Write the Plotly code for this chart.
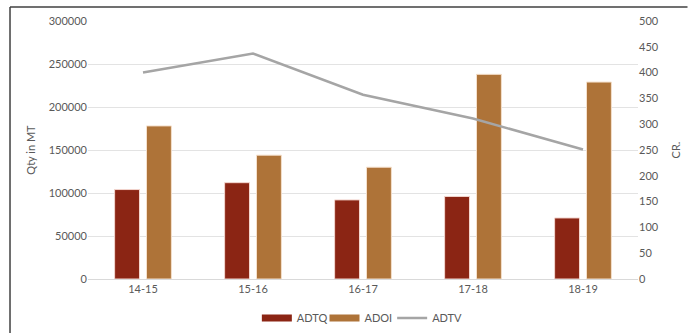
import plotly.graph_objects as go

categories = ["14-15", "15-16", "16-17", "17-18", "18-19"]
adtq = [104000, 112000, 92000, 96000, 71000]
adoi = [178000, 144000, 130000, 238000, 229000]
adtv = [400, 437, 357, 311, 251]

left_ticks = [0, 50000, 100000, 150000, 200000, 250000, 300000]
right_ticks = [0, 50, 100, 150, 200, 250, 300, 350, 400, 450, 500]

FONT = "Lato, 'Open Sans', sans-serif"
GRAY = "#595959"
C_ADTQ = "#8B2514"
C_ADOI = "#AE7338"
C_ADTV = "#A5A5A5"

fig = go.Figure()
fig.add_trace(go.Bar(x=categories, y=adtq, name="ADTQ", showlegend=False,
                     marker=dict(color=C_ADTQ, line=dict(color="#f3d6cf", width=1))))
fig.add_trace(go.Bar(x=categories, y=adoi, name="ADOI", showlegend=False,
                     marker=dict(color=C_ADOI, line=dict(color="#f5e0cc", width=1))))
fig.add_trace(go.Scatter(x=categories, y=adtv, name="ADTV", yaxis="y2", mode="lines",
                         showlegend=False, line=dict(color=C_ADTV, width=2.5)))
# legend entries (Excel-style wide swatches), each in its own legend for exact spacing
fig.add_trace(go.Scatter(x=[None], y=[None], name="ADTQ", mode="lines", legend="legend",
                         line=dict(color=C_ADTQ, width=7)))
fig.add_trace(go.Scatter(x=[None], y=[None], name="ADOI", mode="lines", legend="legend2",
                         line=dict(color=C_ADOI, width=7)))
fig.add_trace(go.Scatter(x=[None], y=[None], name="ADTV", mode="lines", legend="legend3",
                         line=dict(color=C_ADTV, width=2.5)))

leg_common = dict(orientation="h", xanchor="left", y=-0.151, yanchor="middle",
                  font=dict(size=11, color=GRAY), bgcolor="rgba(0,0,0,0)")

fig.update_layout(
    width=689, height=333,
    margin=dict(l=88, r=51, t=21, b=54, autoexpand=False),
    paper_bgcolor="white", plot_bgcolor="white",
    font=dict(family=FONT, size=11, color=GRAY),
    barmode="group", bargap=0.42, bargroupgap=0.22,
    xaxis=dict(showgrid=False, showline=True, linecolor="#d9d9d9", linewidth=1,
               ticks="", tickfont=dict(size=11, color=GRAY)),
    yaxis=dict(range=[0, 300000], tickvals=left_ticks, ticktext=[str(v) for v in left_ticks],
               showgrid=True, gridcolor="#e3e3e3", gridwidth=1, zeroline=False,
               title=dict(text="Qty in MT", font=dict(size=11, color=GRAY), standoff=10),
               ticks="", tickfont=dict(size=11, color=GRAY)),
    yaxis2=dict(range=[0, 500], tickvals=right_ticks, overlaying="y", side="right",
                showgrid=False, zeroline=False,
                title=dict(text="CR.", font=dict(size=11, color=GRAY), standoff=14),
                ticks="", tickfont=dict(size=11, color=GRAY)),
    legend=dict(x=0.307, **leg_common),
    legend2=dict(x=0.430, **leg_common),
    legend3=dict(x=0.553, **leg_common),
    shapes=[
        dict(type="line", xref="paper", yref="paper", x0=-0.1418, x1=1.09, y0=1.054, y1=1.054,
             line=dict(color="#404040", width=1.5)),
        dict(type="line", xref="paper", yref="paper", x0=-0.1418, x1=-0.1418, y0=-0.22, y1=1.054,
             line=dict(color="#404040", width=1.5)),
    ],
)

fig.write_html("out.html")
